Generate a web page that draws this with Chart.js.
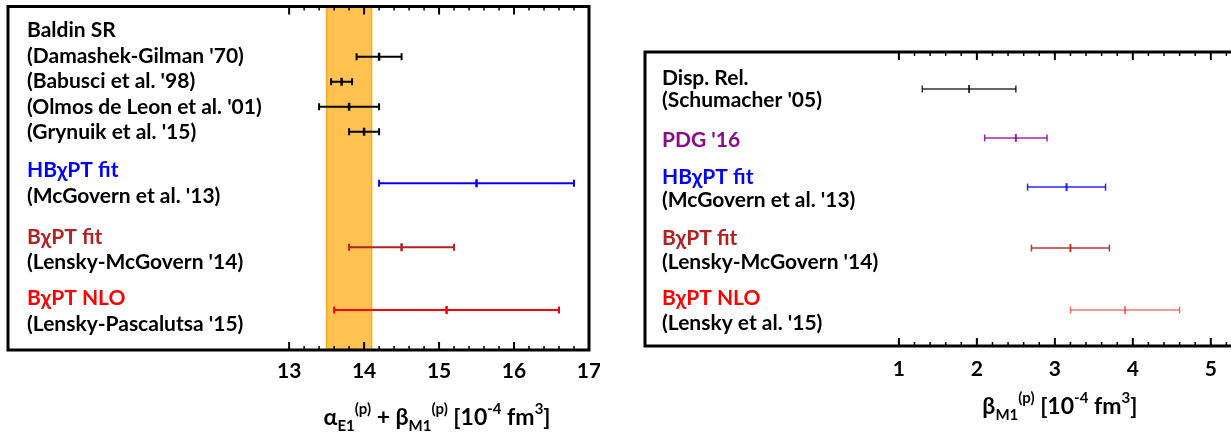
<!DOCTYPE html>
<html>
<head>
<meta charset="utf-8">
<script src="https://cdn.jsdelivr.net/npm/chart.js@4/dist/chart.umd.min.js"></script>
<style>
  html, body { margin: 0; padding: 0; background: #fff; overflow: hidden; }
  body { width: 1231px; height: 440px; position: relative; }
  canvas { position: absolute; top: 0; }
  #sumChart { left: 0; }
  #betaChart { left: 630px; }
</style>
</head>
<body>
<canvas id="sumChart" width="600" height="440"></canvas>
<canvas id="betaChart" width="620" height="440"></canvas>
<script>
// Proton polarizabilities: alpha+beta (left) and beta (right)

// --- left panel: alpha_E1 + beta_M1 ---
const sumLabels = ['Baldin SR', "(Damashek-Gilman '70)", "(Babusci et al. '98)", "(Olmos de Leon et al. '01)",
    "(Grynuik et al. '15)", 'HBχPT fit', "(McGovern et al. '13)", 'BχPT fit', "(Lensky-McGovern '14)",
    'BχPT NLO', "(Lensky-Pascalutsa '15)"];
const sumLabelRows = [0.94, 2, 3, 4, 5, 6.55, 7.57, 9.2, 10.2, 11.65, 12.67];
const sumLabelColors = ['#000', '#000', '#000', '#000', '#000', '#0000ff', '#000', '#b22222', '#000', '#ff0000', '#000'];
const sumValues = [14.2, 13.7, 13.8, 14.0, 15.5, 14.5, 15.1];
const sumErrors = [0.3, 0.14, 0.4, 0.2, 1.3, 0.7, 1.5];
const sumRows = [2, 3, 4, 5, 7.05, 9.6, 12.1];
const sumColors = ['#000', '#000', '#000', '#000', '#0000ff', '#b22222', '#ff0000'];
const baldinBand = [13.5, 14.1];
const sumTicks = [13, 14, 15, 16, 17];

// --- right panel: beta_M1 ---
const betaLabels = ['Disp. Rel.', "(Schumacher '05)", "PDG '16", 'HBχPT fit', "(McGovern et al. '13)",
    'BχPT fit', "(Lensky-McGovern '14)", 'BχPT NLO', "(Lensky et al. '15)"];
const betaLabelRows = [1.08, 2, 3.67, 5.21, 6.17, 7.75, 8.75, 10.25, 11.29];
const betaLabelColors = ['#000', '#000', '#8b0a8b', '#0000ff', '#000', '#b22222', '#000', '#ff0000', '#000'];
const betaValues = [1.9, 2.5, 3.15, 3.2, 3.9];
const betaErrors = [0.6, 0.4, 0.5, 0.5, 0.7];
const betaRows = [1.54, 3.58, 5.63, 8.17, 10.75];
const betaColors = ['rgba(0,0,0,0.8)', 'rgba(150,0,150,0.85)', 'rgba(0,0,255,0.85)', 'rgba(178,34,34,0.9)', 'rgba(255,0,0,0.55)'];
const betaTicks = [1, 2, 3, 4, 5];

const FONT = 'Lato, "Open Sans", "DejaVu Sans", sans-serif';

const sumTitle = [['α', 'n'], ['E1', 'sub'], ['(p)', 'sup'], [' + β', 'n'], ['M1', 'sub'], ['(p)', 'sup'],
    [' [10', 'n'], ['-4', 'sup'], [' fm', 'n'], ['3', 'sup'], [']', 'n']];
const betaTitle = [['β', 'n'], ['M1', 'sub'], ['(p)', 'sup'], [' [10', 'n'], ['-4', 'sup'], [' fm', 'n'], ['3', 'sup'], [']', 'n']];

// error bar = two-point line with vertical caps, plus a centre tick
function errorBarSets(values, errors, rows, colors, width, cap) {
    const sets = [];
    values.forEach((v, i) => {
        sets.push({
            data: [{ x: v - errors[i], y: rows[i] }, { x: v + errors[i], y: rows[i] }],
            showLine: true,
            borderColor: colors[i],
            borderWidth: width,
            pointStyle: 'line',
            rotation: 90,
            pointRadius: cap,
            pointBorderWidth: width,
            pointBorderColor: colors[i],
            order: 0
        });
        sets.push({
            data: [{ x: v, y: rows[i] }],
            pointStyle: 'line',
            rotation: 90,
            pointRadius: cap + 0.5,
            pointBorderWidth: width + 0.5,
            pointBorderColor: colors[i],
            order: 0
        });
    });
    return sets;
}

function drawTitle(ctx, pieces, cx, baseline, size) {
    const fontFor = kind => kind === 'n' ? `bold ${size}px ${FONT}` : `bold ${Math.round(size * 0.66)}px ${FONT}`;
    let total = 0;
    pieces.forEach(([t, k]) => { ctx.font = fontFor(k); total += ctx.measureText(t).width; });
    let x = cx - total / 2;
    ctx.textAlign = 'left';
    ctx.textBaseline = 'alphabetic';
    ctx.fillStyle = '#000';
    pieces.forEach(([t, k]) => {
        ctx.font = fontFor(k);
        const dy = k === 'sub' ? 6 : (k === 'sup' ? -11 : 0);
        ctx.fillText(t, x, baseline + dy);
        x += ctx.measureText(t).width;
    });
}

// frame, inward ticks, row labels and axis title
const panelDecor = {
    id: 'panelDecor',
    afterDraw(chart, args, opts) {
        const { ctx, chartArea: a, scales } = chart;
        const xs = scales.x, ys = scales.y;
        ctx.save();
        // tick marks pointing into the plot, top and bottom
        ctx.strokeStyle = '#000';
        const first = opts.ticks[0];
        for (let v = first; v <= xs.max + 1e-9; v += 0.2) {
            const major = Math.abs(v - Math.round(v)) < 1e-6;
            const px = xs.getPixelForValue(v);
            const len = major ? 8 : 4;
            ctx.lineWidth = major ? 2 : 1.5;
            ctx.beginPath();
            ctx.moveTo(px, a.top); ctx.lineTo(px, a.top + len);
            ctx.moveTo(px, a.bottom); ctx.lineTo(px, a.bottom - len);
            ctx.stroke();
        }
        // frame
        ctx.lineWidth = 3;
        ctx.strokeRect(a.left, a.top, a.right - a.left, a.bottom - a.top);
        // row labels
        ctx.font = `bold 21px ${FONT}`;
        ctx.textAlign = 'left';
        ctx.textBaseline = 'middle';
        opts.labels.forEach((t, i) => {
            ctx.fillStyle = opts.labelColors[i];
            ctx.fillText(t, a.left + opts.labelInset, ys.getPixelForValue(opts.labelRows[i]));
        });
        // axis title centred under the labelled ticks
        const mid = (opts.ticks[0] + opts.ticks[opts.ticks.length - 1]) / 2;
        drawTitle(ctx, opts.title, xs.getPixelForValue(mid) + opts.titleShift, a.bottom + opts.titleDrop, opts.titleSize);
        ctx.restore();
    }
};

function makePanel(id, cfg) {
    new Chart(document.getElementById(id), {
        type: 'scatter',
        data: { datasets: cfg.datasets },
        options: {
            responsive: false,
            animation: false,
            events: [],
            layout: { padding: cfg.padding },
            scales: {
                x: {
                    type: 'linear',
                    min: cfg.xMin,
                    max: cfg.xMax,
                    grid: { display: false, drawTicks: false },
                    border: { display: false },
                    afterBuildTicks: s => { s.ticks = cfg.ticks.map(v => ({ value: v })); },
                    afterFit: s => {
                        s.height = cfg.axisHeight;
                        s.paddingLeft = 0;
                        s.paddingRight = 0;
                    },
                    ticks: {
                        padding: cfg.tickPad,
                        color: '#000',
                        maxRotation: 0,
                        font: { family: FONT, size: 21, weight: 'bold' }
                    }
                },
                y: {
                    type: 'linear',
                    display: false,
                    reverse: true,
                    min: 0,
                    max: cfg.yMax
                }
            },
            plugins: {
                legend: { display: false },
                tooltip: { enabled: false },
                panelDecor: cfg.decor
            }
        },
        plugins: [panelDecor]
    });
}

// Baldin sum rule band, drawn as a closed shape under the error bars
const bandSet = {
    data: [
        { x: baldinBand[0], y: 0 }, { x: baldinBand[0], y: 13.7 },
        { x: baldinBand[1], y: 13.7 }, { x: baldinBand[1], y: 0 }, { x: baldinBand[0], y: 0 }
    ],
    showLine: true,
    fill: 'shape',
    backgroundColor: 'rgba(255,183,51,0.85)',
    borderColor: '#ffaa22',
    borderWidth: 1.5,
    pointRadius: 0,
    order: 5
};

makePanel('sumChart', {
    datasets: [bandSet, ...errorBarSets(sumValues, sumErrors, sumRows, sumColors, 2, 3.5)],
    padding: { left: 8, right: 11, top: 1, bottom: 0 },
    xMin: 9.25, xMax: 17, yMax: 13.7,
    ticks: sumTicks,
    axisHeight: 90,
    tickPad: 9,
    decor: {
        ticks: sumTicks, labels: sumLabels, labelRows: sumLabelRows, labelColors: sumLabelColors,
        labelInset: 19, title: sumTitle, titleShift: -2, titleDrop: 75, titleSize: 23
    }
});

makePanel('betaChart', {
    datasets: errorBarSets(betaValues, betaErrors, betaRows, betaColors, 1.5, 3.5),
    padding: { left: 15, right: 8, top: 52, bottom: 0 },
    xMin: -2.256, xMax: 5.4, yMax: 12.25,
    ticks: betaTicks,
    axisHeight: 94,
    tickPad: 11,
    decor: {
        ticks: betaTicks, labels: betaLabels, labelRows: betaLabelRows, labelColors: betaLabelColors,
        labelInset: 17, title: betaTitle, titleShift: 5, titleDrop: 68, titleSize: 23
    }
});
</script>
</body>
</html>
